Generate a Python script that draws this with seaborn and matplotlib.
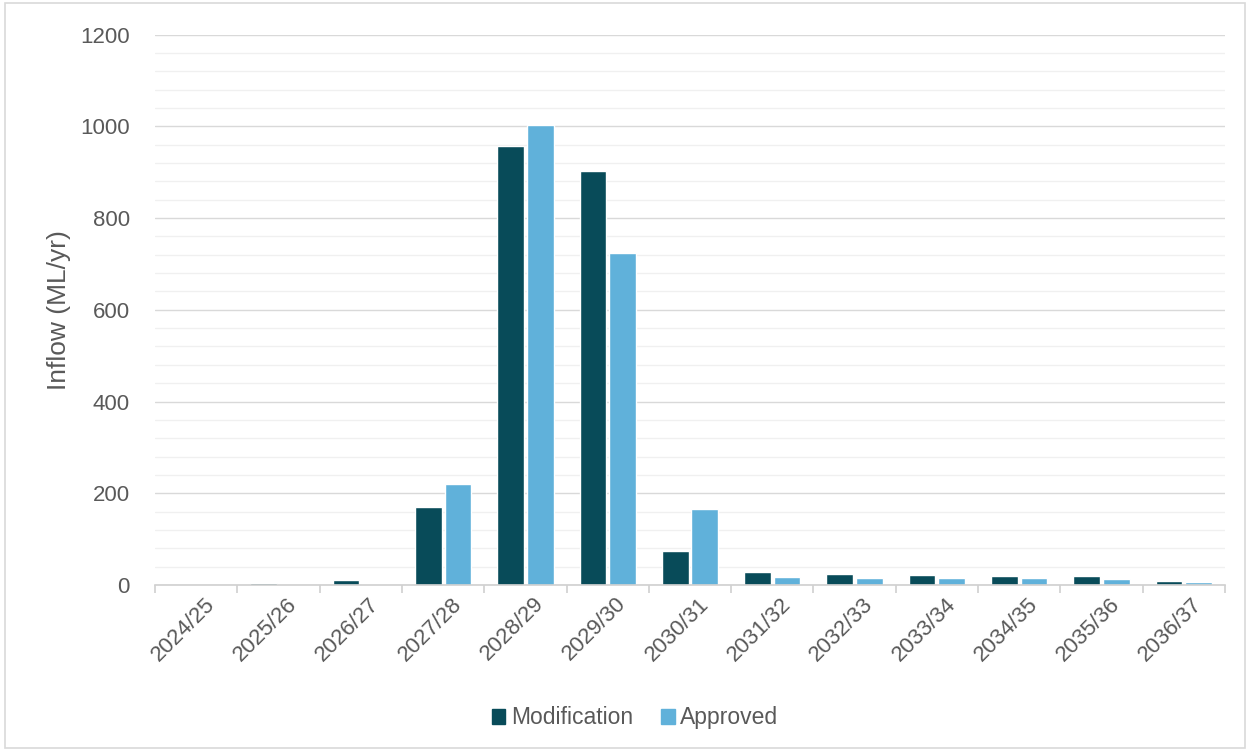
import matplotlib.pyplot as plt
import matplotlib.patches as mpatches
import matplotlib.transforms as mtrans
import pandas as pd
import seaborn as sns

years = ["2024/25", "2025/26", "2026/27", "2027/28", "2028/29", "2029/30",
         "2030/31", "2031/32", "2032/33", "2033/34", "2034/35", "2035/36",
         "2036/37"]
modification = [0, 4, 10, 170, 956, 903, 74, 28, 24, 21, 20, 19, 8]
approved = [0, 1, 3, 220, 1002, 723, 165, 17, 16, 15, 15, 14, 6]

GREY = "#595959"
C_MOD = "#084B59"
C_APP = "#60B1DA"

df = pd.DataFrame({
    "year": years * 2,
    "value": modification + approved,
    "scenario": ["Modification"] * len(years) + ["Approved"] * len(years),
})

sns.set_theme(style="white")
plt.rcParams["font.family"] = ["Liberation Sans", "DejaVu Sans"]

fig = plt.figure(figsize=(12.5, 7.51), dpi=100)
ax = fig.add_axes([0.124, 0.221, 0.856, 0.733])

sns.barplot(data=df, x="year", y="value", hue="scenario",
            palette={"Modification": C_MOD, "Approved": C_APP},
            width=0.72, gap=0.1, ax=ax, legend=False, saturation=1)

ax.set_ylim(0, 1200)
ax.set_xlim(-0.5, len(years) - 0.5)
ax.set_yticks(range(0, 1201, 200))
ax.set_yticks(range(0, 1201, 40), minor=True)
ax.grid(True, axis="y", which="major", color="#D9D9D9", lw=1.0)
ax.grid(True, axis="y", which="minor", color="#F0F0F0", lw=1.0)
ax.set_axisbelow(True)

for s in ["top", "right", "left"]:
    ax.spines[s].set_visible(False)
ax.spines["bottom"].set_color("#D0D0D0")
ax.spines["bottom"].set_linewidth(1.2)

ax.set_xticks([i - 0.5 for i in range(len(years) + 1)], minor=True)
ax.tick_params(axis="x", which="minor", bottom=True, length=6,
               color="#D0D0D0", width=1.2)
ax.tick_params(axis="x", which="major", length=0, labelsize=16,
               labelcolor=GREY, pad=6)
ax.tick_params(axis="y", which="both", length=0, labelsize=16,
               labelcolor=GREY, pad=18)
shift = mtrans.ScaledTranslation(8 / 100, 0, fig.dpi_scale_trans)
for lab in ax.get_xticklabels():
    lab.set_rotation(45)
    lab.set_ha("right")
    lab.set_rotation_mode("anchor")
    lab.set_transform(lab.get_transform() + shift)

ax.set_xlabel("")
ax.set_ylabel("Inflow (ML/yr)", fontsize=19, color=GREY, labelpad=7)

handles = [mpatches.Patch(color=C_MOD, label="Modification"),
           mpatches.Patch(color=C_APP, label="Approved")]
fig.legend(handles=handles, loc="center", bbox_to_anchor=(0.508, 0.044),
           ncol=2, frameon=False, fontsize=16.5, labelcolor=GREY,
           handlelength=0.6, handleheight=0.6, handletextpad=0.25,
           columnspacing=1.2)

fig.patches.append(mpatches.Rectangle((0.004, 0.004), 0.992, 0.992,
                                      transform=fig.transFigure, fill=False,
                                      edgecolor="#D9D9D9", lw=1.2))

fig.savefig("out.png", dpi=100)
